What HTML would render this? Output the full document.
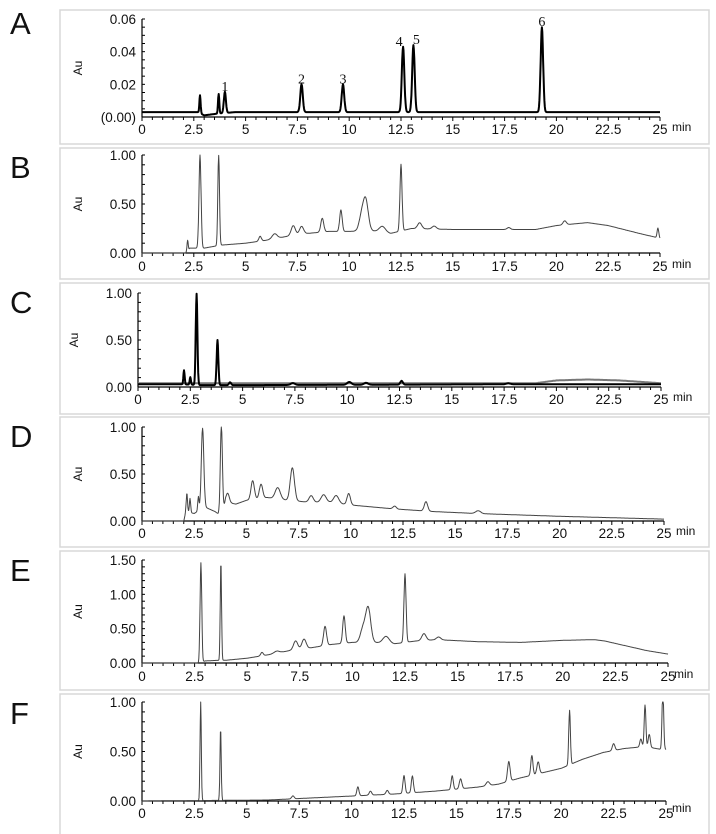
<!DOCTYPE html>
<html><head><meta charset="utf-8"><style>
html,body{margin:0;padding:0;background:#fff;}
svg{display:block;font-family:"Liberation Sans",sans-serif;}
</style></head><body>
<svg id="fig" width="716" height="834" viewBox="0 0 716 834"></svg>
<script>
// ---- data (time in min, absorbance in Au) ----
const xTickLabels = ["0","2.5","5","7.5","10","12.5","15","17.5","20","22.5","25"];
const aBaseT = [0,2.7,3.0,3.6,4.5,25];
const aBaseV = [0.003,0.003,0.001,0.002,0.003,0.003];
const aPeakT = [2.8,3.7,4.0,7.7,9.7,12.6,13.1,19.3];
const aPeakH = [0.011,0.012,0.013,0.017,0.017,0.040,0.041,0.052];
const aPeakW = [0.03,0.03,0.05,0.06,0.06,0.06,0.06,0.06];
const aPeakNames = ["","","1","2","3","4","5","6"];
const aYTicks = ["(0.00)","0.02","0.04","0.06"];

const bBaseT = [0,2.2,2.3,3.0,3.8,5,6,7,8,9,10,11,12,13,15,17,19,20,21.5,22.5,24,25];
const bBaseV = [0,0,0.05,0.05,0.08,0.1,0.13,0.17,0.2,0.22,0.22,0.23,0.2,0.25,0.24,0.24,0.24,0.28,0.31,0.28,0.2,0.15];
const bPeakT = [2.2,2.8,3.7,5.7,6.4,7.3,7.7,8.7,9.6,10.6,10.8,11.6,12.5,13.4,14.1,17.7,20.4,24.9];
const bPeakH = [0.13,0.95,0.92,0.05,0.05,0.1,0.08,0.14,0.22,0.15,0.3,0.06,0.68,0.06,0.03,0.02,0.04,0.1];
const bPeakW = [0.03,0.05,0.04,0.06,0.12,0.1,0.1,0.07,0.06,0.12,0.12,0.15,0.05,0.1,0.1,0.08,0.08,0.04];
const unitYTicks = ["0.00","0.50","1.00"];

const cBaseT = [0,2.0,3.0,5,19,20,21.5,23,25];
const cBaseV = [0.03,0.03,0.02,0.02,0.03,0.03,0.03,0.03,0.03];
const cHumpT = [0,19,20,21.5,23,25];
const cHumpV = [0.04,0.04,0.07,0.08,0.07,0.04];
const cPeakT = [2.2,2.5,2.8,3.8,4.4,7.4,10.1,10.9,12.6,17.7];
const cPeakH = [0.15,0.08,0.97,0.48,0.03,0.02,0.03,0.02,0.04,0.01];
const cPeakW = [0.03,0.03,0.04,0.04,0.05,0.1,0.1,0.1,0.06,0.1];

const dBaseT = [0,2.0,2.1,2.5,3.0,3.5,3.8,4.0,4.5,5,6,7,8,9,10,12,14,16,20,25];
const dBaseV = [0,0,0.1,0.08,0.15,0.1,0.05,0.2,0.18,0.22,0.25,0.22,0.2,0.2,0.17,0.13,0.1,0.08,0.05,0.02];
const dPeakT = [2.15,2.3,2.7,2.9,3.8,4.1,5.3,5.7,6.5,7.2,8.1,8.7,9.3,9.9,12.1,13.6,16.1];
const dPeakH = [0.2,0.15,0.15,0.85,0.95,0.1,0.2,0.15,0.12,0.35,0.07,0.08,0.08,0.12,0.03,0.1,0.03];
const dPeakW = [0.03,0.03,0.03,0.06,0.05,0.08,0.08,0.08,0.12,0.1,0.1,0.12,0.12,0.08,0.08,0.08,0.12];

const eBaseT = [0,2.7,3.0,3.7,4.0,5,6,7,8,9,10,11,12,13,14,16,18,20,21.5,22,24,25];
const eBaseV = [0,0,0.03,0.04,0.04,0.07,0.12,0.18,0.22,0.27,0.3,0.3,0.28,0.32,0.34,0.31,0.3,0.33,0.34,0.32,0.18,0.13];
const ePeakT = [2.8,3.75,5.7,6.4,7.3,7.7,8.7,9.6,10.5,10.75,11.6,12.5,13.4,14.1];
const ePeakH = [1.45,1.45,0.05,0.03,0.13,0.14,0.28,0.4,0.2,0.5,0.1,1.0,0.1,0.04];
const ePeakW = [0.04,0.03,0.06,0.12,0.1,0.1,0.07,0.06,0.12,0.12,0.15,0.05,0.1,0.1];
const eYTicks = ["0.00","0.50","1.00","1.50"];

const fBaseT = [0,6,8,10,12,14,16,17,18,19,20,21,22,23,24,24.8,25];
const fBaseV = [0,0.01,0.03,0.05,0.07,0.1,0.14,0.17,0.23,0.28,0.33,0.42,0.49,0.53,0.55,0.52,0.52];
const fPeakT = [2.8,3.75,7.2,10.3,10.9,11.7,12.5,12.9,14.8,15.2,16.5,17.5,18.6,18.9,20.4,22.5,23.8,24.0,24.2,24.85];
const fPeakH = [1.0,0.73,0.03,0.09,0.04,0.04,0.18,0.17,0.14,0.1,0.04,0.2,0.2,0.12,0.55,0.07,0.08,0.42,0.13,0.6];
const fPeakW = [0.03,0.03,0.06,0.05,0.06,0.06,0.05,0.05,0.05,0.06,0.08,0.06,0.05,0.06,0.04,0.06,0.05,0.04,0.05,0.04];

// ---- drawing ----
const NS="http://www.w3.org/2000/svg";
const svg=document.getElementById('fig');
function mk(tag,attrs,parent){const e=document.createElementNS(NS,tag);for(const k in attrs)e.setAttribute(k,attrs[k]);(parent||svg).appendChild(e);return e;}
function interp(ts,vs,t){if(t<=ts[0])return vs[0];for(let i=1;i<ts.length;i++){if(t<=ts[i]){const f=(t-ts[i-1])/(ts[i]-ts[i-1]);return vs[i-1]+f*(vs[i]-vs[i-1]);}}return vs[vs.length-1];}

const panels=[
 {id:'a',letter:'A',box:[60,10,709,144],x0:142,x25:660,yb:117,yt:19,ymax:0.06,ticks:aYTicks,minor:12,bt:aBaseT,bv:aBaseV,pt:aPeakT,ph:aPeakH,pw:aPeakW,names:aPeakNames,sw:2,col:'#000',ly:134},
 {id:'b',letter:'B',box:[60,148,709,279],x0:142,x25:660,yb:253,yt:155,ymax:1.0,ticks:unitYTicks,minor:10,bt:bBaseT,bv:bBaseV,pt:bPeakT,ph:bPeakH,pw:bPeakW,sw:1,col:'#444',ly:271},
 {id:'c',letter:'C',box:[60,283,709,414],x0:138,x25:661,yb:387,yt:293,ymax:1.0,ticks:unitYTicks,minor:10,bt:cBaseT,bv:cBaseV,pt:cPeakT,ph:cPeakH,pw:cPeakW,sw:2,col:'#000',ly:404,hump:true},
 {id:'d',letter:'D',box:[60,417,709,547],x0:142,x25:664,yb:521,yt:427,ymax:1.0,ticks:unitYTicks,minor:10,bt:dBaseT,bv:dBaseV,pt:dPeakT,ph:dPeakH,pw:dPeakW,sw:1,col:'#444',ly:538},
 {id:'e',letter:'E',box:[60,551,709,690],x0:142,x25:668,yb:663,yt:560,ymax:1.5,ticks:eYTicks,minor:15,bt:eBaseT,bv:eBaseV,pt:ePeakT,ph:ePeakH,pw:ePeakW,sw:1,col:'#444',ly:681},
 {id:'f',letter:'F',box:[60,694,709,840],x0:142,x25:666,yb:801,yt:702,ymax:1.0,ticks:unitYTicks,minor:10,bt:fBaseT,bv:fBaseV,pt:fPeakT,ph:fPeakH,pw:fPeakW,sw:1,col:'#444',ly:818}
];

panels.forEach(p=>{
 const g=mk('g',{});
 
 
 const [bx0,by0,bx1,by1]=p.box;
 const box=mk('rect',{x:bx0,y:by0,width:bx1-bx0,height:by1-by0,fill:'none',stroke:'#d8d8d8','stroke-width':1.5},g);
 
 
 const lt=mk('text',{x:10,y:by0+(p.id==='a'?24:30),'font-size':31,fill:'#111'},g);lt.textContent=p.letter;
 
 
 const X=t=>p.x0+(p.x25-p.x0)*t/25;
 const Y=v=>p.yb-(p.yb-p.yt)*v/p.ymax;
 const ya=mk('line',{x1:p.x0,y1:p.yt,x2:p.x0,y2:p.yb,stroke:'#000','stroke-width':1.2},g);
 
 
 const xa=mk('line',{x1:p.x0,y1:p.yb,x2:p.x25,y2:p.yb,stroke:'#000','stroke-width':1.2},g);
 
 
 for(let i=0;i<=p.minor;i++){const yy=p.yb-(p.yb-p.yt)*i/p.minor;mk('line',{x1:p.x0,y1:yy,x2:p.x0+3,y2:yy,stroke:'#000','stroke-width':1},g);}
 for(let i=0;i<=50;i++){const xx=X(i*0.5);mk('line',{x1:xx,y1:p.yb,x2:xx,y2:p.yb+(i%5===0?4:3),stroke:'#000','stroke-width':1},g);}
 p.ticks.forEach((s,i)=>{const yy=p.yb-(p.yb-p.yt)*i/(p.ticks.length-1);const t=mk('text',{x:p.x0-6,y:yy+5,'font-size':13.5,'text-anchor':'end',fill:'#111'},g);t.textContent=s;
  
  });
 xTickLabels.forEach((s,i)=>{const t=mk('text',{x:X(i*2.5),y:p.ly,'font-size':13.5,'text-anchor':'middle',fill:'#111'},g);t.textContent=s;
  
  });
 const mn=mk('text',{x:p.x25+(p.id==='e'||p.id==='f'?6:12),y:p.ly-(p.id==='f'?6:3),'font-size':12,fill:'#111'},g);mn.textContent='min';
 
 
 const ax=p.x0-60, ay=(p.yb+p.yt)/2;
 const au=mk('text',{x:0,y:0,'font-size':12,'text-anchor':'middle',fill:'#111',transform:'translate('+ax+','+ay+') rotate(-90)'},g);au.textContent='Au';
 
 
 if(p.hump){let d='';for(let t=0;t<=25.001;t+=0.05){const v=interp(cHumpT,cHumpV,t);d+=(d?'L':'M')+X(t).toFixed(1)+','+Y(v).toFixed(1);}
  const h=mk('path',{d:d,fill:'none',stroke:'#777','stroke-width':2},g);
  
  }
 let d='';
 for(let t=0;t<=25.001;t+=0.02){let v=interp(p.bt,p.bv,t);for(let k=0;k<p.pt.length;k++){const z=(t-p.pt[k])/p.pw[k];if(Math.abs(z)<6)v+=p.ph[k]*Math.exp(-0.5*z*z);}
  v=Math.min(v,p.ymax);d+=(d?'L':'M')+X(t).toFixed(1)+','+Y(v).toFixed(1);}
 const tr=mk('path',{d:d,fill:'none',stroke:p.col,'stroke-width':p.sw,'stroke-linejoin':'round'},g);
 
 
 if(p.names){p.names.forEach((n,k)=>{if(!n)return;let v=interp(p.bt,p.bv,p.pt[k])+p.ph[k];const t=mk('text',{x:X(p.pt[k])+(n==='4'?-4:n==='5'?3:0),y:Y(v)-1,'font-size':14,'text-anchor':'middle','font-family':'Liberation Serif, serif',fill:'#111'},g);t.textContent=n;
  
  });}
});
</script>
</body></html>
